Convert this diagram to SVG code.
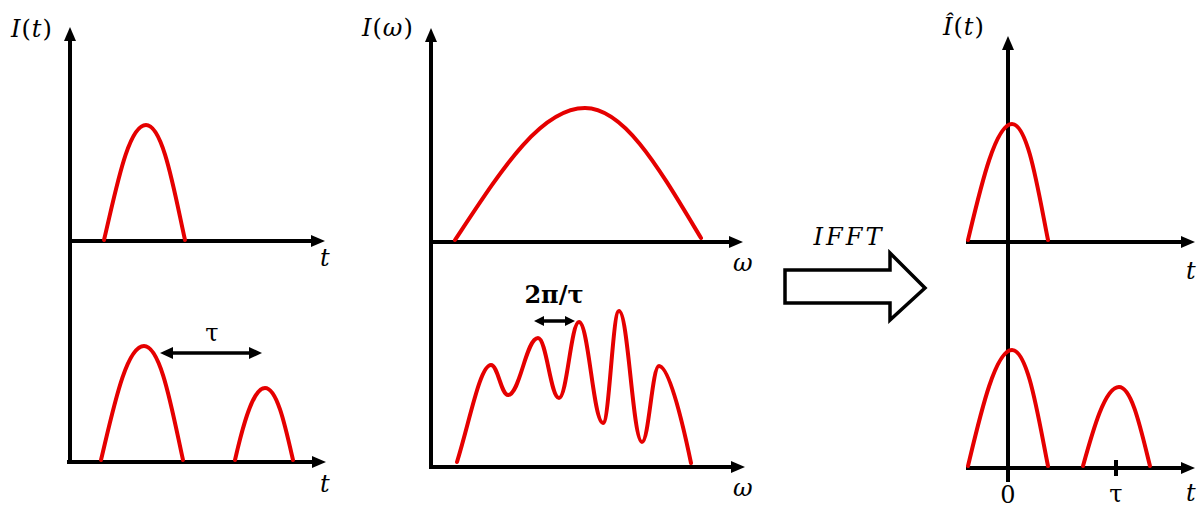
<svg xmlns="http://www.w3.org/2000/svg" width="1203" height="508" viewBox="0 0 1203 508">
<style>
.ax{stroke:#000;stroke-width:4;fill:none;marker-end:url(#ah)}
.ln{stroke:#000;stroke-width:4;fill:none}
.cv{stroke:#e50000;stroke-width:4;fill:none;stroke-linecap:round;stroke-linejoin:round}
.lb{font-family:"DejaVu Serif","Liberation Serif",serif;font-size:24px;fill:#000}
.it{font-style:italic}
.dbl{stroke:#000;stroke-width:3.5;fill:none;marker-start:url(#dh);marker-end:url(#dh)}
.dbs{stroke:#000;stroke-width:3.5;fill:none;marker-start:url(#sh);marker-end:url(#sh)}
</style>
<defs>
<marker id="ah" viewBox="0 -6 14 12" refX="0" refY="0" markerWidth="14" markerHeight="12" markerUnits="userSpaceOnUse" orient="auto"><path d="M0,-6 L14,0 L0,6 z" fill="#000"/></marker>
<marker id="dh" viewBox="0 -6 13 12" refX="0" refY="0" markerWidth="13" markerHeight="12" markerUnits="userSpaceOnUse" orient="auto-start-reverse"><path d="M0,-6 L13,0 L0,6 z" fill="#000"/></marker>
<marker id="sh" viewBox="0 -5 10 10" refX="0" refY="0" markerWidth="10" markerHeight="10" markerUnits="userSpaceOnUse" orient="auto-start-reverse"><path d="M0,-5 L10,0 L0,5 z" fill="#000"/></marker>
</defs>
<rect width="1203" height="508" fill="#fff"/>

<g id="panel1">
<line class="ax" x1="70" y1="464" x2="70" y2="41"/>
<line class="ax" x1="70" y1="241" x2="311" y2="241"/>
<line class="ax" x1="67" y1="462" x2="312" y2="462"/>
<path class="cv" d="M104,240 C116,190 128,125 146,125 C163,125 174,190 185,240"/>
<path class="cv" d="M101,460 C113,410 126,346 144,346 C161,346 172,410 183,460"/>
<path class="cv" d="M235,460 C243,425 253,388 265,388 C277,388 285,425 293,460"/>
<line class="dbl" x1="173" y1="353" x2="249" y2="353"/>
<text class="lb" x="212" y="341" text-anchor="middle" font-size="28">τ</text>
<text class="lb" x="11" y="37" letter-spacing="1"><tspan class="it">I</tspan>(<tspan class="it">t</tspan>)</text>
<text class="lb it" x="320" y="266">t</text>
<text class="lb it" x="320" y="492">t</text>
</g>

<g id="panel2">
<line class="ax" x1="431" y1="469" x2="431" y2="42"/>
<line class="ax" x1="431" y1="242" x2="729" y2="242"/>
<line class="ax" x1="429" y1="467" x2="731" y2="467"/>
<path class="cv" d="M455,240 C500,172 540,108 585,108 C625,108 660,170 701,238"/>
<path class="cv" d="M457,462 C470,420 480,365 491,365 C497.8,365 501.2,395 508,395 C520,395 526,338 538,338 C546.4,338 550.6,398 559,398 C567,398 571,322 579,322 C588.6,322 593.4,423 603,423 C609.4,423 612.6,311 619,311 C628.2,311 632.8,442 642,442 C648.8,442 652.2,366 659,366 C668,366 680,410 691,463"/>
<line class="dbs" x1="544" y1="321" x2="565" y2="321"/>
<text class="lb" x="554" y="303" text-anchor="middle" font-weight="bold">2π/τ</text>
<text class="lb" x="362" y="36" letter-spacing="1"><tspan class="it">I</tspan>(<tspan class="it">ω</tspan>)</text>
<text class="lb it" x="733" y="271">ω</text>
<text class="lb it" x="733" y="496">ω</text>
</g>

<g id="ifft">
<path d="M785,270 L890,270 L890,253 L925,288 L890,320 L890,303 L785,303 z" fill="#fff" stroke="#000" stroke-width="3.5" stroke-linejoin="miter"/>
<text class="lb it" x="849" y="245" text-anchor="middle" font-size="20" letter-spacing="3">IFFT</text>
</g>

<g id="panel3">
<line class="ax" x1="1008" y1="482" x2="1008" y2="50"/>
<line class="ax" x1="966" y1="242" x2="1181" y2="242"/>
<line class="ax" x1="966" y1="468" x2="1181" y2="468"/>
<path class="cv" d="M968,240 C980,190 995,124 1012,124 C1028,124 1038,190 1048,240"/>
<path class="cv" d="M968,466 C980,416 995,350 1012,350 C1028,350 1038,416 1048,466"/>
<path class="cv" d="M1083,466 C1093,430 1105,387 1119,387 C1132,387 1141,430 1150,466"/>
<line class="ln" x1="1116" y1="460" x2="1116" y2="476"/>
<text class="lb" x="1008" y="503" text-anchor="middle" font-size="20">0</text>
<text class="lb" x="1116" y="502" text-anchor="middle">τ</text>
<text class="lb" x="943" y="35" letter-spacing="1"><tspan class="it">Î</tspan>(<tspan class="it">t</tspan>)</text>
<text class="lb it" x="1186" y="279">t</text>
<text class="lb it" x="1186" y="501">t</text>
</g>
</svg>
